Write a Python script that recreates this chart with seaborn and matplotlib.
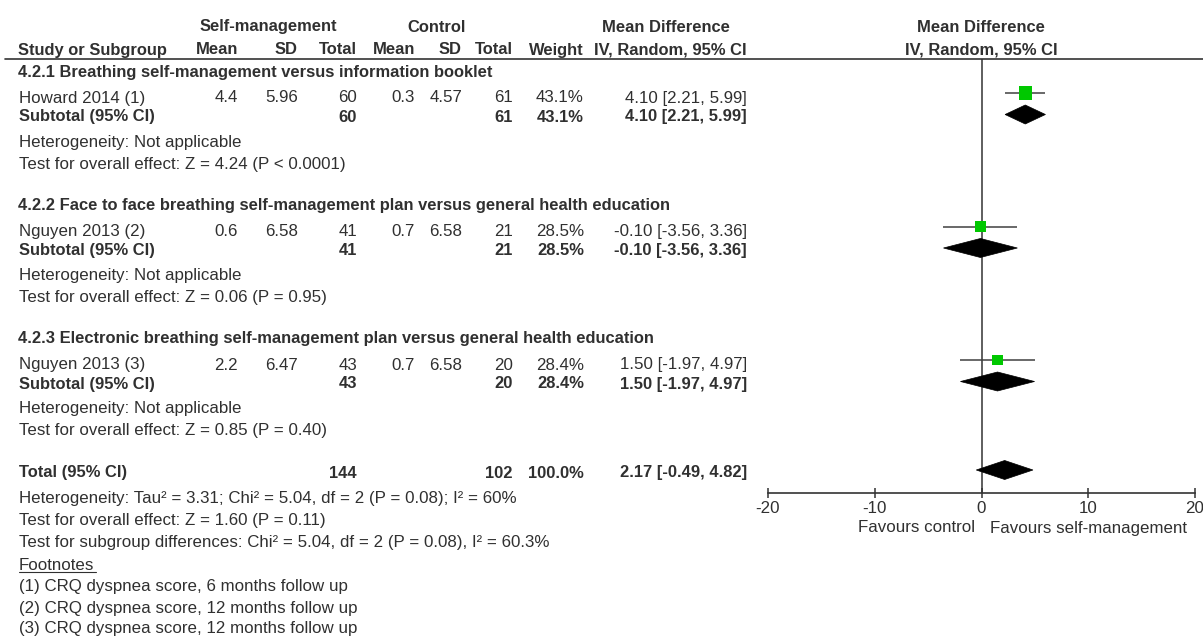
import matplotlib
matplotlib.use('Agg')
import matplotlib.pyplot as plt
from matplotlib.patches import Polygon
import seaborn as sns
import pandas as pd

# --- data ---
subgroups = ['4.2.1 Breathing self-management versus information booklet',
             '4.2.2 Face to face breathing self-management plan versus general health education',
             '4.2.3 Electronic breathing self-management plan versus general health education']
studies = ['Howard 2014 (1)', 'Nguyen 2013 (2)', 'Nguyen 2013 (3)']
sm_mean = [4.4, 0.6, 2.2]
sm_sd = [5.96, 6.58, 6.47]
sm_n = [60, 41, 43]
ct_mean = [0.3, 0.7, 0.7]
ct_sd = [4.57, 6.58, 6.58]
ct_n = [61, 21, 20]
weights = [43.1, 28.5, 28.4]
md = [4.10, -0.10, 1.50]
ci_lo = [2.21, -3.56, -1.97]
ci_hi = [5.99, 3.36, 4.97]
sub_tests = ['Z = 4.24 (P < 0.0001)', 'Z = 0.06 (P = 0.95)', 'Z = 0.85 (P = 0.40)']

total_sm_n = 144
total_ct_n = 102
total_weight = 100.0
total_md = 2.17
total_lo = -0.49
total_hi = 4.82
total_lines = ['Heterogeneity: Tau\u00b2 = 3.31; Chi\u00b2 = 5.04, df = 2 (P = 0.08); I\u00b2 = 60%',
               'Test for overall effect: Z = 1.60 (P = 0.11)',
               'Test for subgroup differences: Chi\u00b2 = 5.04, df = 2 (P = 0.08), I\u00b2 = 60.3%']
footnotes = ['(1) CRQ dyspnea score, 6 months follow up',
             '(2) CRQ dyspnea score, 12 months follow up',
             '(3) CRQ dyspnea score, 12 months follow up']
xticks = [-20, -10, 0, 10, 20]

df = pd.DataFrame({'study': studies, 'md': md, 'lo': ci_lo, 'hi': ci_hi, 'w': weights})

# --- style ---
sns.set_style('white')
plt.rcParams['font.family'] = ['Liberation Sans', 'DejaVu Sans']
FS = 12.2   # regular text
FB = 11.85  # bold text
TC = '#303030'
LC = '#333333'

W, H = 1203, 638
fig = plt.figure(figsize=(W / 100, H / 100), dpi=100)
tx = fig.add_axes([0, 0, 1, 1])
tx.set_xlim(0, W)
tx.set_ylim(H, 0)
tx.axis('off')


def put(x, y, s, ha='left', bold=False):
    tx.text(x, y + 5.5, s, ha=ha, va='baseline', fontsize=FB if bold else FS, color=TC,
            fontweight='bold' if bold else 'normal')


# column right edges
c_mean, c_sd, c_tot = 238, 298, 357
k_mean, k_sd, k_tot = 415, 462, 513
c_w, c_ci = 584, 747

# header
put(268, 26, 'Self-management', 'center', True)
put(437, 26, 'Control', 'center', True)
put(666, 26, 'Mean Difference', 'center', True)
put(981, 26, 'Mean Difference', 'center', True)
put(18, 49, 'Study or Subgroup', bold=True)
for x, s in [(c_mean, 'Mean'), (c_sd, 'SD'), (c_tot, 'Total'), (k_mean, 'Mean'),
             (k_sd, 'SD'), (k_tot, 'Total'), (c_w, 'Weight'), (c_ci, 'IV, Random, 95% CI')]:
    put(x, 49, s, 'right', True)
put(981, 49, 'IV, Random, 95% CI', 'center', True)
tx.plot([5, W], [59, 59], color=LC, lw=1.2)

# forest axes: x in data units, y in pixel rows
fx0, fx1, fy0, fy1 = 768, 1195, 59, 493
ax = fig.add_axes([fx0 / W, 1 - fy1 / H, (fx1 - fx0) / W, (fy1 - fy0) / H])
ax.set_facecolor('none')
ax.set_xlim(-20, 20)
ax.set_ylim(fy1, fy0)
ax.axvline(0, color=LC, lw=1.1)

study_y = []
sub_y = []
for i in range(3):
    y0 = 71 + 133.5 * i
    put(18, y0, subgroups[i], bold=True)
    ys = y0 + 26
    put(19, ys, studies[i])
    put(c_mean, ys, f'{sm_mean[i]}', 'right')
    put(c_sd, ys, f'{sm_sd[i]:.2f}', 'right')
    put(c_tot, ys, f'{sm_n[i]}', 'right')
    put(k_mean, ys, f'{ct_mean[i]}', 'right')
    put(k_sd, ys, f'{ct_sd[i]:.2f}', 'right')
    put(k_tot, ys, f'{ct_n[i]}', 'right')
    put(c_w, ys, f'{weights[i]:.1f}%', 'right')
    put(c_ci, ys, f'{md[i]:.2f} [{ci_lo[i]:.2f}, {ci_hi[i]:.2f}]', 'right')
    yt = y0 + 45
    put(19, yt, 'Subtotal (95% CI)', bold=True)
    put(c_tot, yt, f'{sm_n[i]}', 'right', True)
    put(k_tot, yt, f'{ct_n[i]}', 'right', True)
    put(c_w, yt, f'{weights[i]:.1f}%', 'right', True)
    put(c_ci, yt, f'{md[i]:.2f} [{ci_lo[i]:.2f}, {ci_hi[i]:.2f}]', 'right', True)
    put(19, y0 + 70, 'Heterogeneity: Not applicable')
    put(19, y0 + 92, 'Test for overall effect: ' + sub_tests[i])
    study_y.append(ys - 4)
    sub_y.append(yt - 1.5)

df['y'] = study_y

# study CIs and weighted squares
ax.hlines(df['y'], df['lo'], df['hi'], color='#404040', lw=1.1, zorder=2)
sns.scatterplot(data=df, x='md', y='y', marker='s', color='#00c800', edgecolor='none',
                s=[2.07 * w for w in weights], legend=False, ax=ax, zorder=3, clip_on=False)


def diamond(m, lo, hi, y, h=9.5):
    ax.add_patch(Polygon([(lo, y), (m, y - h), (hi, y), (m, y + h)], closed=True,
                         facecolor='black', edgecolor='black', lw=0.5, zorder=3))


for i in range(3):
    diamond(md[i], ci_lo[i], ci_hi[i], sub_y[i])

# total
yT = 472
put(19, yT, 'Total (95% CI)', bold=True)
put(c_tot, yT, f'{total_sm_n}', 'right', True)
put(k_tot, yT, f'{total_ct_n}', 'right', True)
put(c_w, yT, f'{total_weight:.1f}%', 'right', True)
put(c_ci, yT, f'{total_md:.2f} [{total_lo:.2f}, {total_hi:.2f}]', 'right', True)
diamond(total_md, total_lo, total_hi, yT - 2)
for j, s in enumerate(total_lines):
    put(19, 497 + 22 * j, s)
put(19, 564, 'Footnotes')
tx.plot([19, 96], [572, 572], color=TC, lw=0.8)
for j, s in enumerate(footnotes):
    put(19, 586 + 21 * j, s)

# axis
for side in ['left', 'right', 'top']:
    ax.spines[side].set_visible(False)
ax.spines['bottom'].set_color(LC)
ax.spines['bottom'].set_linewidth(1.2)
ax.set_xticks(xticks)
ax.set_xticklabels([str(t) for t in xticks])
ax.set_yticks([])
ax.tick_params(axis='x', direction='inout', length=7, width=1.1, color=LC,
               pad=2, labelsize=FS, labelcolor=TC, bottom=True)
ax.set_xlabel('')
ax.set_ylabel('')

put(975, 527, 'Favours control', 'right')
put(990, 527, 'Favours self-management')

fig.savefig('out.png', dpi=100)
